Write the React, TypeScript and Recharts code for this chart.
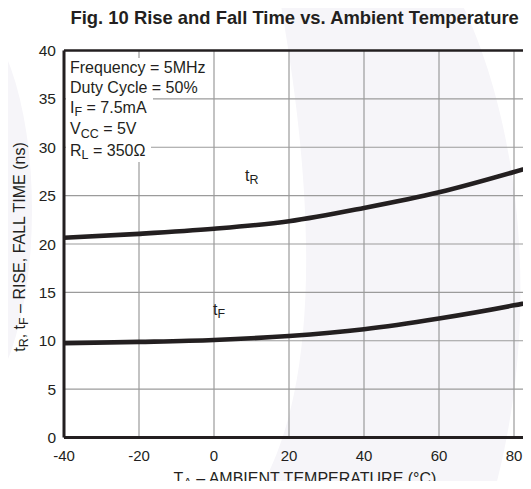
import {
    CartesianGrid,
    Line,
    LineChart,
    ReferenceLine,
    XAxis,
    YAxis,
} from 'recharts';

// ambient temperature, °C
const temperatures = [-40, -20, 0, 20, 40, 60, 80, 100];
// rise time tR, ns
const riseTime = [20.65, 21.05, 21.57, 22.35, 23.73, 25.35, 27.45, 29.8];
// fall time tF, ns
const fallTime = [9.74, 9.88, 10.08, 10.49, 11.19, 12.3, 13.66, 15.3];

const xTicks = [-40, -20, 0, 20, 40, 60, 80, 100];
const yTicks = [0, 5, 10, 15, 20, 25, 30, 35, 40];

const conditions = [
    ['Frequency = 5MHz'],
    ['Duty Cycle = 50%'],
    ['I', 'F', ' = 7.5mA'],
    ['V', 'CC', ' = 5V'],
    ['R', 'L', ' = 350Ω'],
];

const data = temperatures.map((t, i) => ({
    t,
    rise: riseTime[i],
    fall: fallTime[i],
}));

const ink = '#231f20';
const font = '"Liberation Sans", Arial, Helvetica, sans-serif';

const sub = (s: string) => (
    <span style={{ fontSize: '0.78em', position: 'relative', top: '0.25em' }}>
        {s}
    </span>
);

export default function App() {
    return (
        <div
            style={{
                position: 'relative',
                width: 531,
                height: 489,
                overflow: 'hidden',
                margin: -8,
                background: '#fff',
                fontFamily: font,
                color: ink,
            }}
        >
            {/* faint watermark behind the plot */}
            <svg
                width={531}
                height={489}
                style={{ position: 'absolute', left: 0, top: 0 }}
            >
                <ellipse cx={-40} cy={210} rx={72} ry={200} fill="#f6f5f9" />
                <path
                    d="M 280 0 L 460 0 C 515 110, 545 300, 495 489 L 260 489 C 300 420, 330 280, 280 0 Z"
                    fill="#f6f5f9"
                />
            </svg>

            <div style={{ position: 'absolute', left: 0, top: 0 }}>
                <LineChart
                    width={610}
                    height={489}
                    data={data}
                    margin={{ top: 50.5, right: 21, left: 0, bottom: 21.5 }}
                >
                    <CartesianGrid stroke="#9b9b9b" strokeWidth={1.2} />
                    <XAxis
                        dataKey="t"
                        type="number"
                        domain={[-40, 100]}
                        ticks={xTicks}
                        // the 100 °C column falls outside the picture
                        tickFormatter={(v: number) => (v === 100 ? '' : String(v))}
                        height={30}
                        tickLine={false}
                        tickSize={0}
                        tickMargin={13}
                        axisLine={{ stroke: ink, strokeWidth: 3 }}
                        tick={{ fontSize: 15, fill: ink, fontFamily: font }}
                    />
                    <YAxis
                        type="number"
                        domain={[0, 40]}
                        ticks={yTicks}
                        width={64}
                        tickLine={false}
                        tickSize={0}
                        tickMargin={8}
                        axisLine={{ stroke: ink, strokeWidth: 3 }}
                        tick={{ fontSize: 15.5, fill: ink, fontFamily: font }}
                    />
                    <ReferenceLine y={40} stroke={ink} strokeWidth={2.5} />
                    <Line
                        dataKey="rise"
                        type="monotone"
                        stroke={ink}
                        strokeWidth={4.6}
                        dot={false}
                        isAnimationActive={false}
                    />
                    <Line
                        dataKey="fall"
                        type="monotone"
                        stroke={ink}
                        strokeWidth={4.6}
                        dot={false}
                        isAnimationActive={false}
                    />
                </LineChart>
            </div>

            {/* title */}
            <div
                style={{
                    position: 'absolute',
                    left: 294.7,
                    top: 18.3,
                    transform: 'translate(-50%, -50%)',
                    fontSize: 18.4,
                    fontWeight: 'bold',
                    whiteSpace: 'nowrap',
                    lineHeight: 1,
                }}
            >
                Fig. 10 Rise and Fall Time vs. Ambient Temperature
            </div>

            {/* test conditions */}
            <div
                style={{
                    position: 'absolute',
                    left: 66,
                    top: 57.5,
                    fontSize: 16,
                    lineHeight: '20.3px',
                }}
            >
                {conditions.map((c, i) => (
                    <div key={i}>
                        <span
                            style={{
                                background: '#fff',
                                paddingLeft: 4,
                                paddingRight: 6,
                                display: 'inline-block',
                                whiteSpace: 'nowrap',
                            }}
                        >
                            {c[0]}
                            {c[1] ? sub(c[1]) : null}
                            {c[2] ?? ''}
                        </span>
                    </div>
                ))}
            </div>

            {/* curve labels */}
            <div
                style={{
                    position: 'absolute',
                    left: 245,
                    top: 176,
                    transform: 'translateY(-50%)',
                    fontSize: 16,
                    lineHeight: 1,
                }}
            >
                t{sub('R')}
            </div>
            <div
                style={{
                    position: 'absolute',
                    left: 213,
                    top: 310,
                    transform: 'translateY(-50%)',
                    fontSize: 16,
                    lineHeight: 1,
                }}
            >
                t{sub('F')}
            </div>

            {/* axis titles */}
            <div
                style={{
                    position: 'absolute',
                    left: 20,
                    top: 247,
                    transform: 'translate(-50%, -50%) rotate(-90deg)',
                    fontSize: 16,
                    whiteSpace: 'nowrap',
                    lineHeight: 1,
                }}
            >
                t{sub('R')}, t{sub('F')} – RISE, FALL TIME (ns)
            </div>
            <div
                style={{
                    position: 'absolute',
                    left: 305,
                    top: 478.5,
                    transform: 'translate(-50%, -50%)',
                    fontSize: 16,
                    whiteSpace: 'nowrap',
                    lineHeight: 1,
                }}
            >
                T{sub('A')} – AMBIENT TEMPERATURE (°C)
            </div>
        </div>
    );
}
